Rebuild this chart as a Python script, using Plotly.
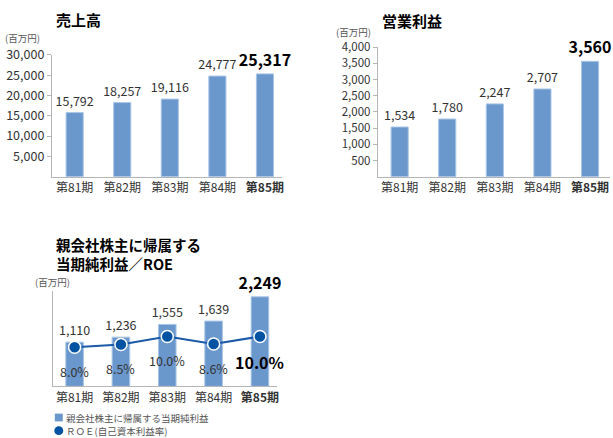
import plotly.graph_objects as go

W, H = 613, 438

periods = ['第81期', '第82期', '第83期', '第84期', '第85期']
sales = [15792, 18257, 19116, 24777, 25317]
op_income = [1534, 1780, 2247, 2707, 3560]
net_income = [1110, 1236, 1555, 1639, 2249]
roe = [8.0, 8.5, 10.0, 8.6, 10.0]

sales_ticks = [5000, 10000, 15000, 20000, 25000, 30000]
op_ticks = [500, 1000, 1500, 2000, 2500, 3000, 3500, 4000]

FONT = 'Noto Sans CJK JP'
BAR = '#6a97cc'
BAR_EDGE = '#a9c6e8'
AXIS = '#b5b5b5'
TXT = '#333333'


def px_x(x):
    return x / W


def px_y(y):
    return 1 - y / H


def bar_labels(vals):
    return [f'{v:,}' if i < len(vals) - 1 else f'<b>{v:,}</b>' for i, v in enumerate(vals)]


cat_text = [p if i < len(periods) - 1 else f'<b>{p}</b>' for i, p in enumerate(periods)]
xs = list(range(len(periods)))
lab_sizes = [12.5] * (len(periods) - 1) + [16]
lab_colors = [TXT] * (len(periods) - 1) + ['#000000']

fig = go.Figure()

# 売上高
fig.add_trace(go.Bar(x=xs, y=sales, xaxis='x', yaxis='y', width=0.36,
                     marker=dict(color=BAR, line=dict(color=BAR_EDGE, width=1)),
                     text=bar_labels(sales), textposition='outside', cliponaxis=False,
                     constraintext='none',
                     textfont=dict(family=FONT, size=lab_sizes, color=lab_colors)))

# 営業利益
fig.add_trace(go.Bar(x=xs, y=op_income, xaxis='x2', yaxis='y2', width=0.36,
                     marker=dict(color=BAR, line=dict(color=BAR_EDGE, width=1)),
                     text=bar_labels(op_income), textposition='outside', cliponaxis=False,
                     constraintext='none',
                     textfont=dict(family=FONT, size=lab_sizes, color=lab_colors)))

# 当期純利益 / ROE
fig.add_trace(go.Bar(x=xs, y=net_income, xaxis='x3', yaxis='y3', width=0.38,
                     marker=dict(color=BAR, line=dict(color=BAR_EDGE, width=1)),
                     text=bar_labels(net_income), textposition='outside', cliponaxis=False,
                     constraintext='none',
                     textfont=dict(family=FONT, size=lab_sizes, color=lab_colors)))
fig.add_trace(go.Scatter(x=xs, y=roe, xaxis='x3', yaxis='y4', mode='lines+markers',
                         cliponaxis=False,
                         line=dict(color='#1a5aa8', width=2),
                         marker=dict(size=12, color='#0052a2', line=dict(color='white', width=1.5))))

for i, v in enumerate(roe):
    last = i == len(roe) - 1
    fig.add_annotation(x=i, y=v, xref='x3', yref='y4', showarrow=False,
                       text=f'<b>{v:.1f}%</b>' if last else f'{v:.1f}%',
                       yshift=-26 if last else -24,
                       font=dict(family=FONT, size=16 if last else 12.5,
                                 color='#000000' if last else TXT))

xcommon = dict(tickmode='array', tickvals=xs, ticktext=cat_text, showline=True,
               linecolor=AXIS, linewidth=1, ticks='', showgrid=False, zeroline=False,
               tickfont=dict(family=FONT, size=12, color=TXT), fixedrange=True)
ycommon = dict(showline=True, linecolor=AXIS, linewidth=1, ticks='outside', ticklen=4,
               tickcolor=AXIS, showgrid=False, zeroline=False, tickformat=',',
               tickfont=dict(family=FONT, size=12.5, color=TXT), fixedrange=True)

fig.update_layout(
    width=W, height=H, autosize=False,
    margin=dict(l=0, r=0, t=0, b=0),
    paper_bgcolor='white', plot_bgcolor='white',
    showlegend=False, bargap=0.5,
    xaxis=dict(xcommon, domain=[px_x(52), px_x(283)], range=[-0.48, 4.36], anchor='y'),
    yaxis=dict(ycommon, domain=[px_y(170), px_y(45)], range=[0, 30000],
               tickvals=sales_ticks, anchor='x'),
    xaxis2=dict(xcommon, domain=[px_x(379), px_x(612)], range=[-0.46, 4.42], anchor='y2'),
    yaxis2=dict(ycommon, domain=[px_y(170), px_y(37)], range=[0, 4000],
                tickvals=op_ticks, anchor='x2',
                tickfont=dict(family=FONT, size=11.5, color=TXT)),
    xaxis3=dict(xcommon, domain=[px_x(53), px_x(278)], range=[-0.47, 4.37], anchor='y3'),
    yaxis3=dict(ycommon, domain=[px_y(385), px_y(287)], range=[0, 2400],
                showticklabels=False, ticks='', anchor='x3'),
    yaxis4=dict(domain=[px_y(385), px_y(287)], range=[0.73, 18.5], overlaying='y3',
                visible=False, fixedrange=True, anchor='x3'),
)

# titles, unit labels and the hand-drawn legend texts
texts = [
    ('売上高', 55, 9, 15, True, '#000000'),
    ('営業利益', 382, 10, 15, True, '#000000'),
    ('親会社株主に帰属する', 55, 240, 14.5, True, '#000000'),
    ('当期純利益／ROE', 55, 259, 14.5, True, '#000000'),
    ('(百万円)', 4, 27.5, 9.5, False, '#555555'),
    ('(百万円)', 336, 21.5, 9.5, False, '#555555'),
    ('(百万円)', 34, 278, 9.5, False, '#555555'),
    ('親会社株主に帰属する当期純利益', 65, 417, 9.5, False, '#555555'),
    ('ＲＯＥ(自己資本利益率)', 65, 430.5, 9.5, False, '#555555'),
]
for t, x, y, s, b, c in texts:
    fig.add_annotation(x=px_x(x), y=px_y(y), xref='paper', yref='paper', showarrow=False,
                       xanchor='left', yanchor='middle', borderpad=0,
                       text=f'<b>{t}</b>' if b else t,
                       font=dict(family=FONT, size=s, color=c))

# legend symbols
fig.add_shape(type='rect', xref='paper', yref='paper',
              x0=px_x(55), x1=px_x(63), y0=px_y(421), y1=px_y(413),
              fillcolor=BAR, line=dict(width=0))
fig.add_shape(type='circle', xref='paper', yref='paper',
              x0=px_x(54.5), x1=px_x(63.5), y0=px_y(435), y1=px_y(426),
              fillcolor='#0052a2', line=dict(width=0))

# the page has a default 8px body margin; drop it so the figure sits at 0,0
fig.write_html('out.html', config={'displayModeBar': False},
               post_script="document.body.style.margin='0';")
